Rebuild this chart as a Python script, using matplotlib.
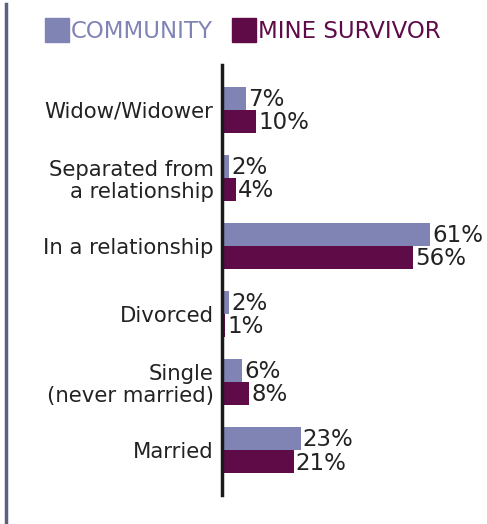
import matplotlib
matplotlib.use('Agg')
import matplotlib.pyplot as plt
from matplotlib.lines import Line2D
from matplotlib.patches import Rectangle

# Marital status, bottom to top
categories = ['Married', 'Single\n(never married)', 'Divorced',
              'In a relationship', 'Separated from\na relationship', 'Widow/Widower']
community = [23, 6, 2, 61, 2, 7]
mine_survivor = [21, 8, 1, 56, 4, 10]

COMMUNITY_COLOR = '#8084b4'
SURVIVOR_COLOR = '#5e0b48'
TEXT_COLOR = '#222222'

W, H = 487, 524
fig = plt.figure(figsize=(W / 100, H / 100), dpi=100)

# axes placed in pixel terms
left, right, top, bottom = 222, 461, 65, 495
ax = fig.add_axes([left / W, 1 - bottom / H, (right - left) / W, (bottom - top) / H])

ypos = list(range(len(categories)))
h = 0.34
ax.barh([y + h / 2 for y in ypos], community, height=h, color=COMMUNITY_COLOR)
ax.barh([y - h / 2 for y in ypos], mine_survivor, height=h, color=SURVIVOR_COLOR)

for y, c, m in zip(ypos, community, mine_survivor):
    ax.text(c + 0.6, y + h / 2 - 0.02, f'{c}%', va='center', ha='left', fontsize=16.5,
            color=TEXT_COLOR, clip_on=False)
    ax.text(m + 0.6, y - h / 2 - 0.02, f'{m}%', va='center', ha='left', fontsize=16.5,
            color=TEXT_COLOR, clip_on=False)

ax.set_xlim(0, 70)
ax.set_ylim(-0.66, 5.66)
ax.set_yticks(ypos)
ax.set_yticklabels(categories, fontsize=15.3, color=TEXT_COLOR, ha='right',
                   multialignment='right', linespacing=1.15)
ax.tick_params(axis='y', length=0, pad=6)
ax.set_xticks([])
for side in ['top', 'right', 'bottom']:
    ax.spines[side].set_visible(False)
ax.spines['left'].set_linewidth(2.5)
ax.spines['left'].set_color('#1a1a1a')

# page rule on the left edge
fig.add_artist(Line2D([6 / W, 6 / W], [0, 1 - 4 / H], transform=fig.transFigure,
                      color='#5b5f80', linewidth=2.5))

# legend drawn as squares and text
sq = 24
fig.add_artist(Rectangle((45 / W, 1 - 42 / H), sq / W, sq / H, transform=fig.transFigure,
                         color=COMMUNITY_COLOR))
fig.text(71 / W, 1 - 31 / H, 'COMMUNITY', fontsize=16.5, color=COMMUNITY_COLOR, va='center')
fig.add_artist(Rectangle((232 / W, 1 - 42 / H), sq / W, sq / H, transform=fig.transFigure,
                         color=SURVIVOR_COLOR))
fig.text(258 / W, 1 - 31 / H, 'MINE SURVIVOR', fontsize=16.5, color=SURVIVOR_COLOR, va='center')

fig.savefig('out.png', dpi=100)
